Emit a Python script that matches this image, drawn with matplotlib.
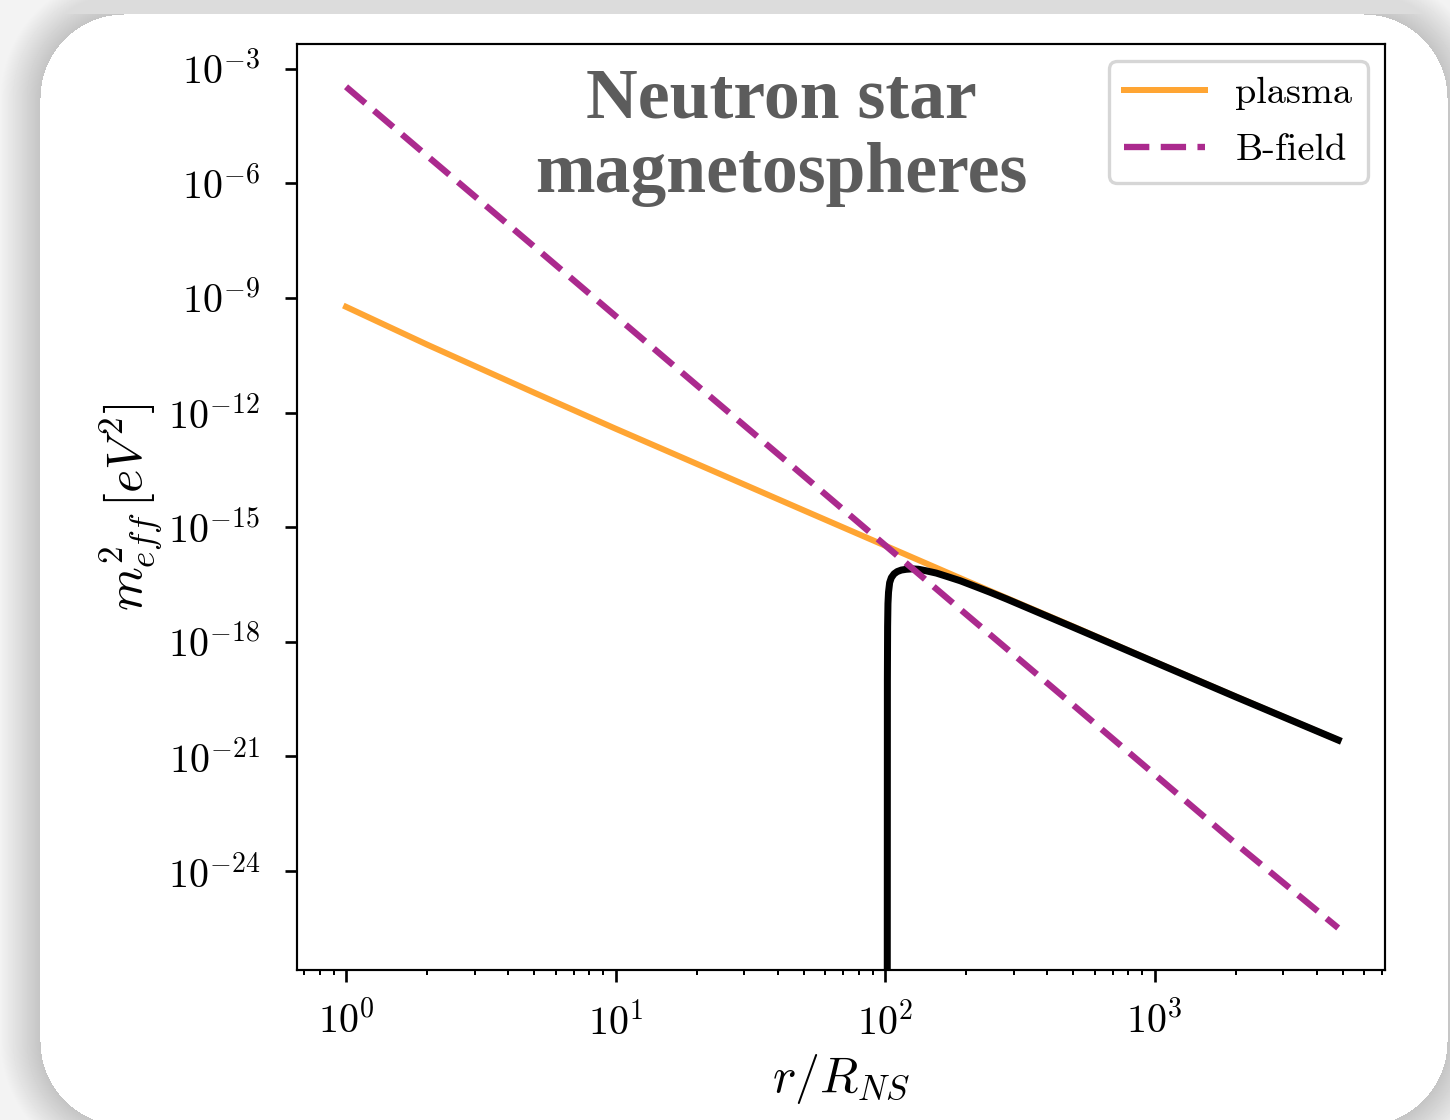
import numpy as np
import matplotlib.pyplot as plt
from matplotlib.ticker import NullLocator

# values (log10 of m_eff^2 in eV^2)
r_lines = [1, 2, 5, 10, 20, 50, 100, 200, 500, 1000, 2000, 4800]
log_plasma = [-9.23, -10.22, -11.48, -12.42, -13.34, -14.56, -15.48, -16.40, -17.60, -18.52, -19.43, -20.57]
log_bfield = [-3.47, -5.28, -7.66, -9.47, -11.28, -13.66, -15.47, -17.28, -19.66, -21.47, -23.28, -25.49]

# total (plasma - B-field), only where it is positive
r_total = [101.9, 102.0, 102.2, 102.5, 103, 104, 105.5, 108, 111, 115, 120, 126, 133, 142,
           155, 170, 190, 215, 245, 283, 376, 500, 1000, 2000, 4800]
log_total = [-27.0, -19.0, -17.6, -17.0, -16.7, -16.45, -16.32, -16.22, -16.16, -16.12, -16.10,
             -16.09, -16.10, -16.14, -16.20, -16.29, -16.40, -16.545, -16.70, -16.88, -17.25,
             -17.62, -18.53, -19.44, -20.57]

ytick_exp = [-3, -6, -9, -12, -15, -18, -21, -24]

plt.rcParams['font.family'] = 'serif'
plt.rcParams['font.serif'] = ['cmr10']
plt.rcParams['mathtext.fontset'] = 'cm'
plt.rcParams['axes.formatter.use_mathtext'] = True

W, H, DPI = 1450, 1120, 240
fig = plt.figure(figsize=(W / DPI, H / DPI), dpi=DPI)

# grey background with a rounded white card
bg = fig.add_axes([0, 0, 1, 1], zorder=-10)
yy, xx = np.mgrid[0:H, 0:W]
x0, x1, y0, y1, rad = 40, 1447, 14, 1125, 84
cx, cy = (x0 + x1) / 2, (y0 + y1) / 2
hx, hy = (x1 - x0) / 2 - rad, (y1 - y0) / 2 - rad
qx = np.abs(xx - cx) - hx
qy = np.abs(yy - cy) - hy
d = np.hypot(np.maximum(qx, 0), np.maximum(qy, 0)) + np.minimum(np.maximum(qx, qy), 0) - rad
shade = 0.77 + 0.18 * np.clip(d / 40, 0, 1)
shade = np.where(yy < y0, np.maximum(shade, 0.86), shade)
img = np.where(d > 0, shade, 1.0)
bg.imshow(img, cmap='gray', vmin=0, vmax=1, aspect='auto', interpolation='bilinear')
bg.axis('off')

ax = fig.add_axes([297 / W, 1 - 970 / H, (1385 - 297) / W, (970 - 44) / H])
ax.set_facecolor('none')

ax.plot(r_lines, 10 ** np.array(log_plasma), color='#ffa533', lw=1.8, label='plasma')
ax.plot(r_total, 10 ** np.array(log_total), color='black', lw=2.1)
ax.plot(r_lines, 10 ** np.array(log_bfield), color='#ab2a8e', lw=1.9, ls='--', dashes=(4, 1.8), label='B-field')

ax.set_xscale('log')
ax.set_yscale('log')
ax.set_xlim(10 ** -0.182, 10 ** 3.855)
ax.set_ylim(10 ** -26.59, 10 ** -2.35)
ax.set_yticks([10.0 ** e for e in ytick_exp])
ax.yaxis.set_minor_locator(NullLocator())
ax.tick_params(labelsize=12, pad=6)
ax.tick_params(axis='y', pad=7.5)
ax.tick_params(which='minor', length=1.4)
for s in ax.spines.values():
    s.set_linewidth(0.65)

ax.set_xlabel(r'$r/R_{NS}$', fontsize=15, labelpad=3)
ax.set_ylabel(r'$m^2_{eff}\,[eV^2]$', fontsize=15, labelpad=1)

ax.text(0.445, 0.975, 'Neutron star\nmagnetospheres', transform=ax.transAxes,
        ha='center', va='top', fontsize=21.5, fontweight='bold', color='#5c5c5c',
        family='Liberation Serif', linespacing=1.2)

ax.legend(loc='upper right', fontsize=11.5, handlelength=2.1, labelspacing=0.6, borderaxespad=0.45)

fig.savefig('out.png', dpi=DPI)
